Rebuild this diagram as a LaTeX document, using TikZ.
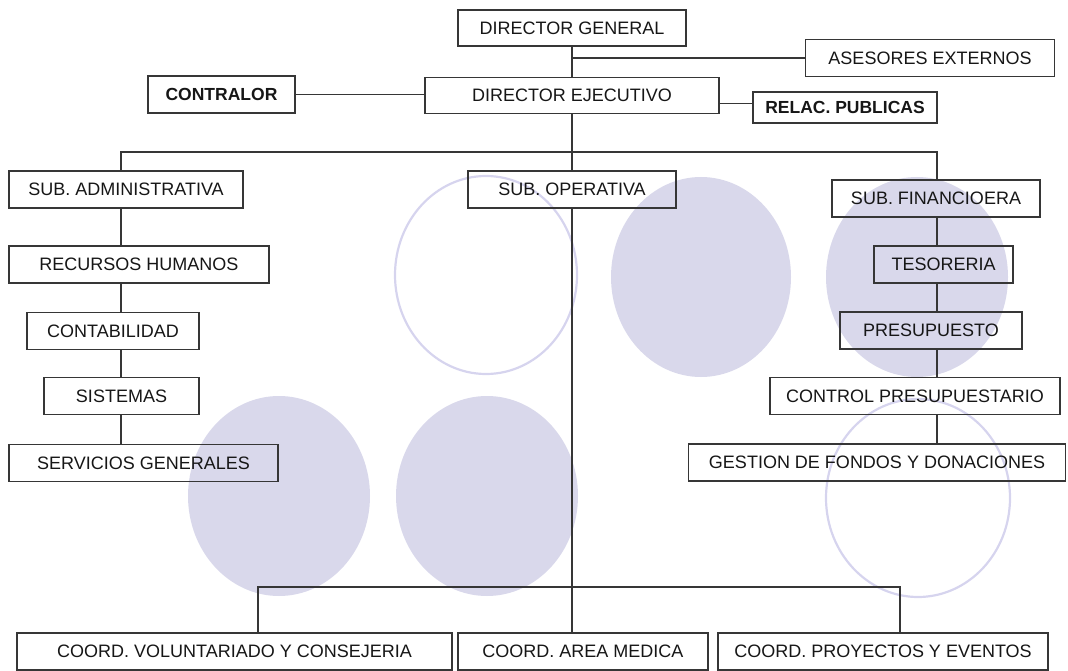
\documentclass[tikz,border=0pt]{standalone}
\usepackage{fontspec}
\setmainfont{Liberation Sans}
\usepackage{tikz}
\usetikzlibrary{calc, positioning}
\definecolor{lavfill}{HTML}{D9D8EB}
\definecolor{lavring}{HTML}{D6D4EE}
\definecolor{linegray}{HTML}{363636}
\definecolor{ink}{HTML}{161616}

\begin{document}
\begin{tikzpicture}[x=1pt, y=-1pt,
    unit/.style={draw=linegray, line width=1.3pt, text=ink, inner sep=0pt,
      minimum height=37pt, font=\fontsize{18}{20}\selectfont},
    boldunit/.style={unit, font=\fontsize{17.5}{20}\selectfont\bfseries},
    link/.style={linegray, line width=1.3pt}]
  \useasboundingbox (0,0) rectangle (1068,671);
  % decorative ellipses
  \fill[lavfill] (701,277) ellipse (90pt and 100pt);
  \fill[lavfill] (917,277) ellipse (91pt and 100pt);
  \fill[lavfill] (279,496) ellipse (91pt and 100pt);
  \fill[lavfill] (487,496) ellipse (91pt and 100pt);
  \draw[lavring, line width=2.2pt] (486,275) ellipse (91pt and 99pt);
  \draw[lavring, line width=2.2pt] (918,498) ellipse (92pt and 99pt);
  % top level
  \node[unit, minimum width=228pt, minimum height=36pt] (dg) at (572,28) {DIRECTOR GENERAL};
  \node[unit, minimum width=249pt] (ae) at (930,58) {ASESORES EXTERNOS};
  \node[unit, minimum width=294pt, minimum height=36pt] (de) at (572,95.5) {DIRECTOR EJECUTIVO};
  \node[boldunit, minimum width=147pt] (co) at (221.5,94.5) {CONTRALOR};
  \node[boldunit, minimum width=184pt, minimum height=31pt] (rp) at (845,107.5) {RELAC. PUBLICAS};
  % subdirections
  \node[unit, minimum width=234pt] (sa) at (126,189.5) {SUB. ADMINISTRATIVA};
  \node[unit, minimum width=208pt] (so) at (572,189.5) {SUB. OPERATIVA};
  \node[unit, minimum width=208pt] (sf) at (936,198.5) {SUB. FINANCIOERA};
  % administrative column
  \node[unit, minimum width=260pt] (rh) at (139,264.5) {RECURSOS HUMANOS};
  \node[unit, minimum width=172pt] (ct) at (113,331) {CONTABILIDAD};
  \node[unit, minimum width=155pt] (si) at (121.5,396) {SISTEMAS};
  \node[unit, minimum width=269pt] (sg) at (143.5,463) {SERVICIOS GENERALES};
  % financial column
  \node[unit, minimum width=139pt] (te) at (943.5,264.5) {TESORERIA};
  \node[unit, minimum width=182pt] (pr) at (931,330.5) {PRESUPUESTO};
  \node[unit, minimum width=290pt] (cp) at (915,396) {CONTROL PRESUPUESTARIO};
  \node[unit, minimum width=377pt] (gf) at (877,462.5) {GESTION DE FONDOS Y DONACIONES};
  % coordinations
  \node[unit, minimum width=435pt] (cv) at (234.5,651.5) {COORD. VOLUNTARIADO Y CONSEJERIA};
  \node[unit, minimum width=250pt] (cm) at (583,651.5) {COORD. AREA MEDICA};
  \node[unit, minimum width=330pt] (cpe) at (883,651.5) {COORD. PROYECTOS Y EVENTOS};
  % bus corners
  \coordinate (colL) at (121,152);
  \coordinate (colR) at (937,152);
  \coordinate (busL) at (258,587);
  \coordinate (busR) at (900,587);
  \coordinate (rpin) at ($(rp.west)+(0,-4)$);
  % connectors
  \draw[link] (dg.south) -- (dg.south |- de.north);
  \draw[link] (dg.south |- ae.west) -- (ae.west);
  \draw[link] (co.east) -- (co.east -| de.west);
  \draw[link] (rpin) -- (rpin -| de.east);
  \draw[link] (de.south) -- (de.south |- so.north);
  \draw[link] (sa.north -| colL) -- (colL) -- (colR) -- (sf.north -| colR);
  \foreach \a/\b in {sa/rh, rh/ct, ct/si, si/sg}
    \draw[link] (\a.south -| colL) -- (\b.north -| colL);
  \foreach \a/\b in {sf/te, te/pr, pr/cp, cp/gf}
    \draw[link] (\a.south -| colR) -- (\b.north -| colR);
  \draw[link] (so.south) -- (so.south |- cm.north);
  \draw[link] (cv.north -| busL) -- (busL) -- (busR) -- (cpe.north -| busR);
\end{tikzpicture}
\end{document}
